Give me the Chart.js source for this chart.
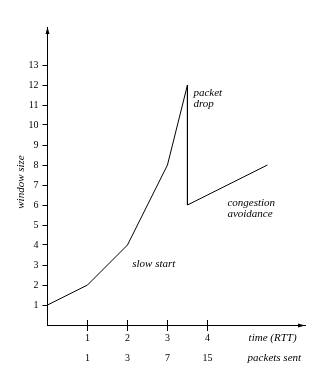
<!DOCTYPE html>
<html>
<head>
<meta charset="utf-8">
<script src="https://cdn.jsdelivr.net/npm/chart.js@4"></script>
<style>
  body { margin: 0; background: #fff; }
  canvas { display: block; }
</style>
</head>
<body>
<canvas id="window-chart" width="330" height="378"></canvas>
<script>
// time in RTT and congestion window size
var rtt = [0, 1, 2, 3, 3.5, 3.5, 5.5];
var windowSize = [1, 2, 4, 8, 12, 6, 8];

// axis ticks
var xTicks = [1, 2, 3, 4];
var packetsSent = ['1', '3', '7', '15'];
var yTicks = [1, 2, 3, 4, 5, 6, 7, 8, 9, 10, 11, 12, 13];

var notes = [
  { lines: ['packet', 'drop'], x: 3.65, y: 11.6 },
  { lines: ['congestion', 'avoidance'], x: 4.5, y: 6.1 },
  { lines: ['slow start'], x: 2.12, y: 3.05 }
];

var serif = "'Liberation Serif', 'Times New Roman', serif";

var decorPlugin = {
  id: 'decor',
  afterDraw: function (chart) {
    var ctx = chart.ctx;
    var xs = chart.scales.x;
    var ys = chart.scales.y;
    var area = chart.chartArea;
    ctx.save();
    ctx.strokeStyle = '#000';
    ctx.fillStyle = '#000';
    ctx.lineWidth = 1;

    // upper half of the x tick marks
    xTicks.forEach(function (v) {
      var px = Math.floor(xs.getPixelForValue(v)) + 0.5;
      ctx.beginPath();
      ctx.moveTo(px, area.bottom);
      ctx.lineTo(px, area.bottom - 5);
      ctx.stroke();
    });

    // arrow heads
    var ax = Math.floor(area.left) + 0.5;
    ctx.beginPath();
    ctx.moveTo(ax, area.top);
    ctx.lineTo(ax - 2, area.top + 7);
    ctx.lineTo(ax + 2, area.top + 7);
    ctx.closePath();
    ctx.fill();
    var ay = Math.round(area.bottom) + 0.5;
    ctx.beginPath();
    ctx.moveTo(area.right, ay);
    ctx.lineTo(area.right - 7, ay - 2);
    ctx.lineTo(area.right - 7, ay + 2);
    ctx.closePath();
    ctx.fill();

    ctx.font = 'italic 11px ' + serif;
    ctx.textBaseline = 'middle';
    ctx.textAlign = 'left';
    notes.forEach(function (n) {
      var px = xs.getPixelForValue(n.x);
      var py = ys.getPixelForValue(n.y);
      n.lines.forEach(function (line, i) {
        ctx.fillText(line, px, py + i * 11);
      });
    });

    var lx = xs.getPixelForValue(5.03);
    ctx.fillText('time (RTT)', lx, area.bottom + 13);
    ctx.fillText('packets sent', lx - 1, area.bottom + 33);

    ctx.translate(21, 182);
    ctx.rotate(-Math.PI / 2);
    ctx.textAlign = 'center';
    ctx.fillText('window size', 0, 0);
    ctx.restore();
  }
};

new Chart(document.getElementById('window-chart'), {
  type: 'line',
  data: {
    datasets: [{
      data: rtt.map(function (t, i) { return { x: t, y: windowSize[i] }; }),
      borderColor: '#000',
      borderWidth: 1,
      pointRadius: 0,
      tension: 0,
      fill: false
    }]
  },
  options: {
    responsive: false,
    animation: false,
    devicePixelRatio: 1,
    layout: { padding: { top: 27, right: 25, left: 0, bottom: 0 } },
    plugins: { legend: { display: false }, tooltip: { enabled: false } },
    scales: {
      x: {
        type: 'linear',
        min: 0,
        max: 6.44,
        afterBuildTicks: function (scale) {
          scale.ticks = xTicks.map(function (v) { return { value: v }; });
        },
        afterFit: function (scale) { scale.height = 53; },
        grid: { drawOnChartArea: false, tickLength: 6, color: '#000' },
        border: { color: '#000', width: 1 },
        ticks: {
          color: '#000',
          padding: -3,
          maxRotation: 0,
          font: { family: serif, size: 10, lineHeight: 2 },
          callback: function (v) {
            var i = xTicks.indexOf(v);
            return [String(v), packetsSent[i]];
          }
        }
      },
      y: {
        min: 0,
        max: 14.9,
        afterBuildTicks: function (scale) {
          scale.ticks = yTicks.map(function (v) { return { value: v }; });
        },
        afterFit: function (scale) { scale.width = 47.5; },
        grid: { drawOnChartArea: false, tickLength: 5, color: '#000' },
        border: { color: '#000', width: 1 },
        ticks: {
          color: '#000',
          padding: 4,
          font: { family: serif, size: 10 }
        }
      }
    }
  },
  plugins: [decorPlugin]
});
</script>
</body>
</html>
